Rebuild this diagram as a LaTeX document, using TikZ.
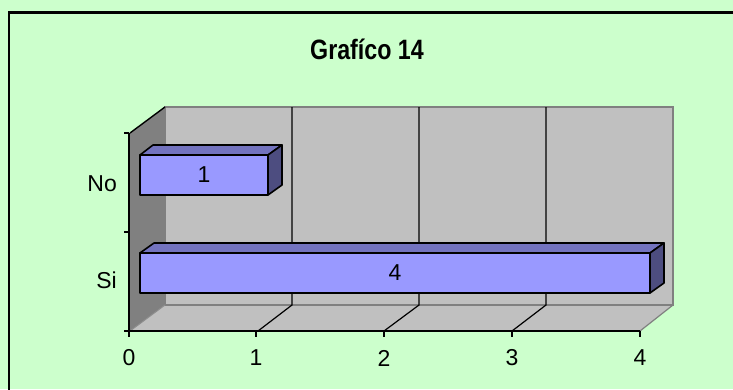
\documentclass[tikz,border=0pt]{standalone}
\usepackage{fontspec}
\setmainfont{Liberation Sans}
\definecolor{bg}{HTML}{CCFFCC}
\definecolor{wall}{HTML}{C0C0C0}
\definecolor{sidewall}{HTML}{808080}
\definecolor{barfront}{HTML}{9999FF}
\definecolor{bartop}{HTML}{7373BF}
\definecolor{barside}{HTML}{4D4D80}
\tikzset{
  lbl/.style={font=\fontsize{23}{25}\selectfont, inner sep=0pt},
  grid/.style={black, line width=1.2pt},
  barface/.style={draw=black, line width=1.6pt, line join=round},
  axisline/.style={black, line width=1.8pt},
}
\begin{document}
\begin{tikzpicture}[x=1pt,y=-1pt]
\useasboundingbox (0,0) rectangle (733,389);
\fill[bg] (0,0) rectangle (733,389);
\draw[black, line width=2.6pt] (9,12.5) rectangle (760,420);
% title
\node[font=\fontsize{28}{30}\selectfont\bfseries, inner sep=0pt, xscale=0.83] (title) at (367,49) {Grafíco 14};
% walls
\fill[sidewall] (130,133) -- (165,107) -- (165,305) -- (130,331) -- cycle;
\fill[wall] (165,107) rectangle (673,305);
\fill[wall] (130,331) -- (165,305) -- (673,305) -- (640,331) -- cycle;
\draw[sidewall, line width=1.2pt] (165,107) -- (673,107) -- (673,305) -- (165,305) -- cycle;
\draw[sidewall, line width=1.2pt] (673,305) -- (640,331);
\draw[sidewall!80!wall, line width=1pt] (165,305) -- (130,331);
\draw[black, line width=1.4pt] (130,133) -- (165,107);
% gridlines
\foreach \gx/\fx in {292/258, 419/384, 546/512} {
  \draw[grid] (\gx,107) -- (\gx,305) -- (\fx,331);
}
% axes
\draw[axisline] (129,133) -- (129,331) -- (640,331);
\foreach \ty in {133,232,331} { \draw[axisline] (124,\ty) -- (129,\ty); }
\foreach \tx in {129,256,384,512,640} { \draw[axisline] (\tx,331) -- (\tx,337); }
% bar No
\draw[barface, fill=bartop] (140,155) -- (153,145) -- (282,145) -- (268,155) -- cycle;
\draw[barface, fill=barside] (268,155) -- (282,145) -- (282,185) -- (268,195) -- cycle;
\draw[barface, fill=barfront] (140,155) rectangle (268,195);
% bar Si
\draw[barface, fill=bartop] (140,253) -- (154,243) -- (664,243) -- (650,253) -- cycle;
\draw[barface, fill=barside] (650,253) -- (664,243) -- (664,283) -- (650,293) -- cycle;
\draw[barface, fill=barfront] (140,253) rectangle (650,293);
% labels
\node[lbl] (v1) at (204,175) {1};
\node[lbl] (v4) at (395,273) {4};
\node[lbl, anchor=east] (cno) at (117,184) {No};
\node[lbl, anchor=east] (csi) at (117,280) {Si};
\node[lbl] (t0) at (129,358) {0};
\node[lbl] (t1) at (256,358) {1};
\node[lbl] (t2) at (384,358) {2};
\node[lbl] (t3) at (512,358) {3};
\node[lbl] (t4) at (640,358) {4};
\end{tikzpicture}
\end{document}
